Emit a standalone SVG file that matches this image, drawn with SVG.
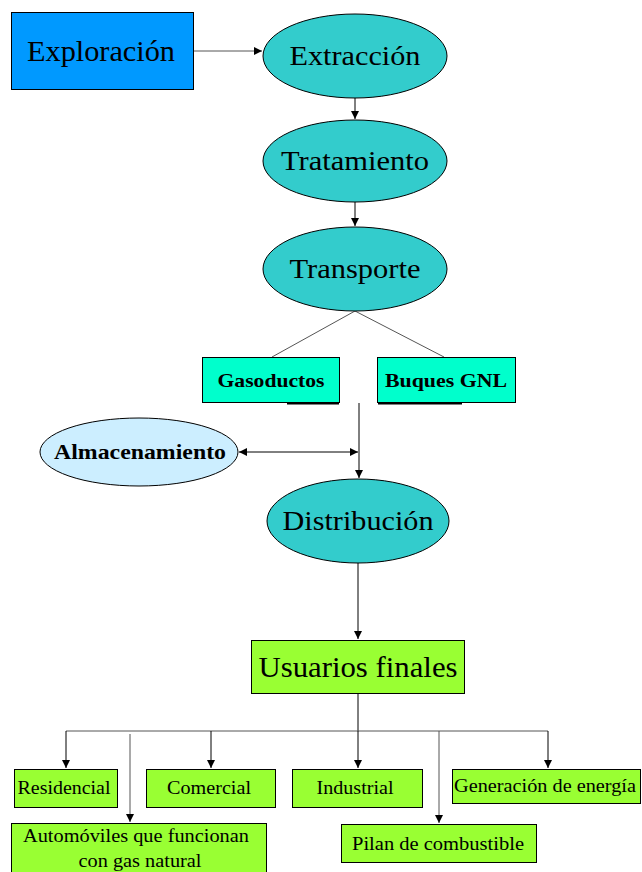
<svg xmlns="http://www.w3.org/2000/svg" width="642" height="872" viewBox="0 0 642 872">
<defs>
<marker id="ah" viewBox="0 0 10 10" refX="10" refY="5" markerWidth="8" markerHeight="8" markerUnits="userSpaceOnUse" orient="auto-start-reverse"><path d="M0,0 L10,5 L0,10 z" fill="#000"/></marker>
<style>
.t{font-family:"Liberation Serif","Times New Roman",serif;fill:#000;text-anchor:middle}
.b{stroke:#000;stroke-width:1}
.c{stroke:#000;stroke-width:1;fill:none}
.g{stroke:#555;stroke-width:1;fill:none}
</style>
</defs>
<rect width="642" height="872" fill="#fff"/>
<g id="connectors">
<line class="g" x1="194" y1="51" x2="262" y2="51" marker-end="url(#ah)"/>
<line class="c" x1="355" y1="98" x2="355" y2="119" marker-end="url(#ah)"/>
<line class="c" x1="355" y1="202" x2="355" y2="226" marker-end="url(#ah)"/>
<line class="g" x1="355" y1="311" x2="272" y2="357"/>
<line class="g" x1="355" y1="311" x2="444" y2="357"/>
<line x1="287" y1="403.5" x2="339" y2="403.5" stroke="#000" stroke-width="2"/>
<line x1="378" y1="403.5" x2="462" y2="403.5" stroke="#000" stroke-width="2"/>
<line class="c" x1="359" y1="403" x2="359" y2="478" marker-end="url(#ah)"/>
<line class="c" x1="239" y1="452" x2="358" y2="452" marker-start="url(#ah)" marker-end="url(#ah)"/>
<line class="c" x1="358" y1="563" x2="358" y2="639" marker-end="url(#ah)"/>
<line class="c" x1="358" y1="694" x2="358" y2="731"/>
<line class="g" x1="66" y1="731" x2="548" y2="731"/>
<line class="c" x1="66" y1="731" x2="66" y2="768" marker-end="url(#ah)"/>
<line class="c" x1="211" y1="731" x2="211" y2="768" marker-end="url(#ah)"/>
<line class="c" x1="358" y1="731" x2="358" y2="768" marker-end="url(#ah)"/>
<line class="c" x1="548" y1="731" x2="548" y2="768" marker-end="url(#ah)"/>
<line class="g" x1="130" y1="734" x2="130" y2="822" marker-end="url(#ah)"/>
<line class="g" x1="439" y1="731" x2="439" y2="823" marker-end="url(#ah)"/>
</g>
<g id="exploracion"><rect class="b" x="11.5" y="12.5" width="182" height="77" fill="#0099ff"/><text class="t" x="101" y="61" font-size="30" textLength="148" lengthAdjust="spacingAndGlyphs">Exploración</text></g>
<g id="extraccion"><ellipse class="b" cx="355" cy="56" rx="92" ry="42" fill="#33cccc"/><text class="t" x="355" y="65" font-size="28" textLength="131" lengthAdjust="spacingAndGlyphs">Extracción</text></g>
<g id="tratamiento"><ellipse class="b" cx="355" cy="161" rx="92" ry="41" fill="#33cccc"/><text class="t" x="355" y="170" font-size="28" textLength="148" lengthAdjust="spacingAndGlyphs">Tratamiento</text></g>
<g id="transporte"><ellipse class="b" cx="355" cy="269" rx="92" ry="42" fill="#33cccc"/><text class="t" x="355" y="278" font-size="28" textLength="131" lengthAdjust="spacingAndGlyphs">Transporte</text></g>
<g id="gasoductos"><rect class="b" x="202.5" y="357.5" width="137" height="45" fill="#00ffcc"/><text class="t" x="271" y="387" font-size="19" font-weight="bold" textLength="107" lengthAdjust="spacingAndGlyphs">Gasoductos</text></g>
<g id="buques"><rect class="b" x="377.5" y="357.5" width="138" height="45" fill="#00ffcc"/><text class="t" x="446" y="387" font-size="19" font-weight="bold" textLength="122" lengthAdjust="spacingAndGlyphs">Buques GNL</text></g>
<g id="almacenamiento"><ellipse class="b" cx="139" cy="452" rx="99" ry="34" fill="#cceeff"/><text class="t" x="140" y="459" font-size="21" font-weight="bold" textLength="172" lengthAdjust="spacingAndGlyphs">Almacenamiento</text></g>
<g id="distribucion"><ellipse class="b" cx="358" cy="521" rx="91" ry="42" fill="#33cccc"/><text class="t" x="358" y="530" font-size="28" textLength="151" lengthAdjust="spacingAndGlyphs">Distribución</text></g>
<g id="usuarios"><rect class="b" x="251.5" y="640.5" width="213" height="53" fill="#99ff33"/><text class="t" x="358" y="677" font-size="30" textLength="199" lengthAdjust="spacingAndGlyphs">Usuarios finales</text></g>
<g id="residencial"><rect class="b" x="14.5" y="769.5" width="103" height="38" fill="#99ff33"/><text class="t" x="64" y="794" font-size="18" textLength="93" lengthAdjust="spacingAndGlyphs">Residencial</text></g>
<g id="comercial"><rect class="b" x="146.5" y="769.5" width="129" height="38" fill="#99ff33"/><text class="t" x="209" y="794" font-size="18" textLength="84" lengthAdjust="spacingAndGlyphs">Comercial</text></g>
<g id="industrial"><rect class="b" x="292.5" y="769.5" width="130" height="38" fill="#99ff33"/><text class="t" x="355" y="794" font-size="18" textLength="77" lengthAdjust="spacingAndGlyphs">Industrial</text></g>
<g id="generacion"><rect class="b" x="452.5" y="769.5" width="188" height="34" fill="#99ff33"/><text class="t" x="545" y="792" font-size="18" textLength="182" lengthAdjust="spacingAndGlyphs">Generación de energía</text></g>
<g id="automoviles"><rect class="b" x="11.5" y="823.5" width="255" height="52" fill="#99ff33"/><text class="t" x="136" y="842" font-size="18" textLength="226" lengthAdjust="spacingAndGlyphs">Automóviles que funcionan</text><text class="t" x="140" y="867" font-size="18" textLength="123" lengthAdjust="spacingAndGlyphs">con gas natural</text></g>
<g id="pilan"><rect class="b" x="341.5" y="824.5" width="195" height="38" fill="#99ff33"/><text class="t" x="438" y="850" font-size="18" textLength="172" lengthAdjust="spacingAndGlyphs">Pilan de combustible</text></g>
</svg>
